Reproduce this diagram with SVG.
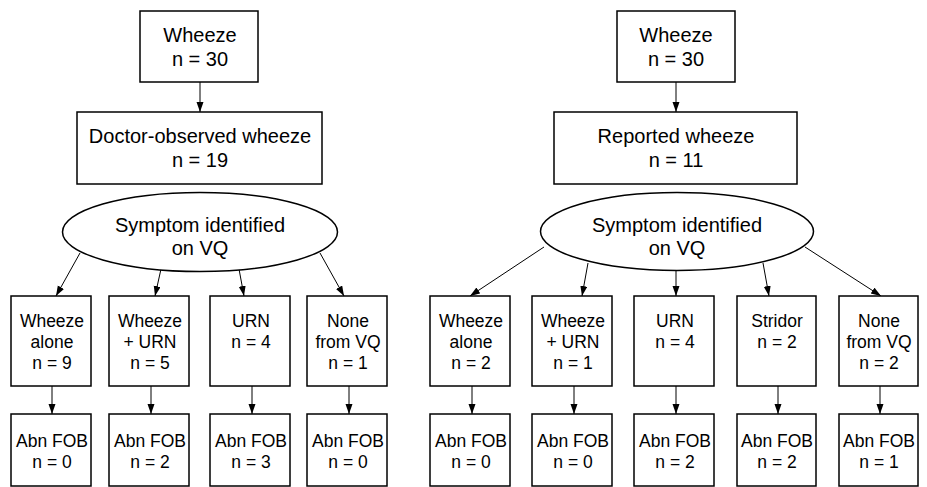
<svg xmlns="http://www.w3.org/2000/svg" width="927" height="487" viewBox="0 0 927 487">
<style>
.box{fill:#fff;stroke:#000;stroke-width:1.5}
.t{font-family:"Liberation Sans",Arial,sans-serif;font-size:20px;fill:#000;text-anchor:middle}
.s{font-size:17.5px}
.c{stroke:#000;stroke-width:1;fill:none;marker-end:url(#ah)}
</style>
<defs>
<marker id="ah" markerUnits="userSpaceOnUse" markerWidth="11" markerHeight="8" refX="10" refY="3.5" orient="auto">
<path d="M0,0 L10,3.5 L0,7 z" fill="#000"/>
</marker>
</defs>
<rect width="927" height="487" fill="#fff"/>
<g id="connectors">
<line class="c" x1="200" y1="82" x2="200" y2="112"/>
<line class="c" x1="80" y1="253" x2="56" y2="296"/>
<line class="c" x1="161" y1="269" x2="155" y2="296"/>
<line class="c" x1="239" y1="269" x2="244" y2="296"/>
<line class="c" x1="320" y1="253" x2="344" y2="296"/>
<line class="c" x1="52" y1="386" x2="52" y2="414"/>
<line class="c" x1="151" y1="386" x2="151" y2="414"/>
<line class="c" x1="252" y1="386" x2="252" y2="414"/>
<line class="c" x1="349" y1="386" x2="349" y2="414"/>
<line class="c" x1="676" y1="82" x2="676" y2="112"/>
<line class="c" x1="544" y1="247" x2="470" y2="296"/>
<line class="c" x1="588" y1="263" x2="582" y2="296"/>
<line class="c" x1="676" y1="271" x2="676" y2="296"/>
<line class="c" x1="763" y1="263" x2="769" y2="296"/>
<line class="c" x1="805" y1="247" x2="881" y2="296"/>
<line class="c" x1="472" y1="386" x2="472" y2="414"/>
<line class="c" x1="574" y1="386" x2="574" y2="414"/>
<line class="c" x1="676" y1="386" x2="676" y2="414"/>
<line class="c" x1="778" y1="386" x2="778" y2="414"/>
<line class="c" x1="880" y1="386" x2="880" y2="414"/>
</g>
<g id="L-top"><rect class="box" x="140" y="11" width="118" height="71"/><text class="t" x="200" y="42">Wheeze</text><text class="t" x="200" y="66">n = 30</text></g>
<g id="L-doc"><rect class="box" x="77" y="112" width="245" height="72"/><text class="t" x="200" y="143">Doctor-observed wheeze</text><text class="t" x="200" y="167">n = 19</text></g>
<g id="L-sym"><ellipse class="box" cx="200" cy="232" rx="137.5" ry="39.5"/><text class="t" x="200" y="232">Symptom identified</text><text class="t" x="200" y="255">on VQ</text></g>
<g id="L-a1"><rect class="box" x="11" y="296" width="80" height="90"/><text class="t s" x="52" y="327">Wheeze</text><text class="t s" x="52" y="348">alone</text><text class="t s" x="52" y="369">n = 9</text></g>
<g id="L-a2"><rect class="box" x="109" y="296" width="80" height="90"/><text class="t s" x="150" y="327">Wheeze</text><text class="t s" x="150" y="348">+ URN</text><text class="t s" x="150" y="369">n = 5</text></g>
<g id="L-a3"><rect class="box" x="210" y="296" width="80" height="90"/><text class="t s" x="251" y="327">URN</text><text class="t s" x="251" y="348">n = 4</text></g>
<g id="L-a4"><rect class="box" x="307" y="296" width="80" height="90"/><text class="t s" x="348" y="327">None</text><text class="t s" x="348" y="348">from VQ</text><text class="t s" x="348" y="369">n = 1</text></g>
<g id="L-b1"><rect class="box" x="11" y="414" width="80" height="72"/><text class="t s" x="52" y="447">Abn FOB</text><text class="t s" x="52" y="468">n = 0</text></g>
<g id="L-b2"><rect class="box" x="109" y="414" width="80" height="72"/><text class="t s" x="150" y="447">Abn FOB</text><text class="t s" x="150" y="468">n = 2</text></g>
<g id="L-b3"><rect class="box" x="210" y="414" width="80" height="72"/><text class="t s" x="251" y="447">Abn FOB</text><text class="t s" x="251" y="468">n = 3</text></g>
<g id="L-b4"><rect class="box" x="307" y="414" width="80" height="72"/><text class="t s" x="348" y="447">Abn FOB</text><text class="t s" x="348" y="468">n = 0</text></g>
<g id="R-top"><rect class="box" x="617" y="11" width="118" height="71"/><text class="t" x="676" y="42">Wheeze</text><text class="t" x="676" y="66">n = 30</text></g>
<g id="R-rep"><rect class="box" x="554" y="112" width="243" height="72"/><text class="t" x="676" y="143">Reported wheeze</text><text class="t" x="676" y="167">n = 11</text></g>
<g id="R-sym"><ellipse class="box" cx="677" cy="231.5" rx="136.5" ry="39"/><text class="t" x="677" y="232">Symptom identified</text><text class="t" x="677" y="255">on VQ</text></g>
<g id="R-a1"><rect class="box" x="430" y="296" width="80" height="90"/><text class="t s" x="471" y="327">Wheeze</text><text class="t s" x="471" y="348">alone</text><text class="t s" x="471" y="369">n = 2</text></g>
<g id="R-a2"><rect class="box" x="532" y="296" width="80" height="90"/><text class="t s" x="573" y="327">Wheeze</text><text class="t s" x="573" y="348">+ URN</text><text class="t s" x="573" y="369">n = 1</text></g>
<g id="R-a3"><rect class="box" x="634" y="296" width="80" height="90"/><text class="t s" x="675" y="327">URN</text><text class="t s" x="675" y="348">n = 4</text></g>
<g id="R-a4"><rect class="box" x="737" y="296" width="79" height="90"/><text class="t s" x="777" y="327">Stridor</text><text class="t s" x="777" y="348">n = 2</text></g>
<g id="R-a5"><rect class="box" x="839" y="296" width="79" height="90"/><text class="t s" x="879" y="327">None</text><text class="t s" x="879" y="348">from VQ</text><text class="t s" x="879" y="369">n = 2</text></g>
<g id="R-b1"><rect class="box" x="430" y="414" width="80" height="72"/><text class="t s" x="471" y="447">Abn FOB</text><text class="t s" x="471" y="468">n = 0</text></g>
<g id="R-b2"><rect class="box" x="532" y="414" width="80" height="72"/><text class="t s" x="573" y="447">Abn FOB</text><text class="t s" x="573" y="468">n = 0</text></g>
<g id="R-b3"><rect class="box" x="634" y="414" width="80" height="72"/><text class="t s" x="675" y="447">Abn FOB</text><text class="t s" x="675" y="468">n = 2</text></g>
<g id="R-b4"><rect class="box" x="737" y="414" width="79" height="72"/><text class="t s" x="777" y="447">Abn FOB</text><text class="t s" x="777" y="468">n = 2</text></g>
<g id="R-b5"><rect class="box" x="839" y="414" width="79" height="72"/><text class="t s" x="879" y="447">Abn FOB</text><text class="t s" x="879" y="468">n = 1</text></g>
</svg>
